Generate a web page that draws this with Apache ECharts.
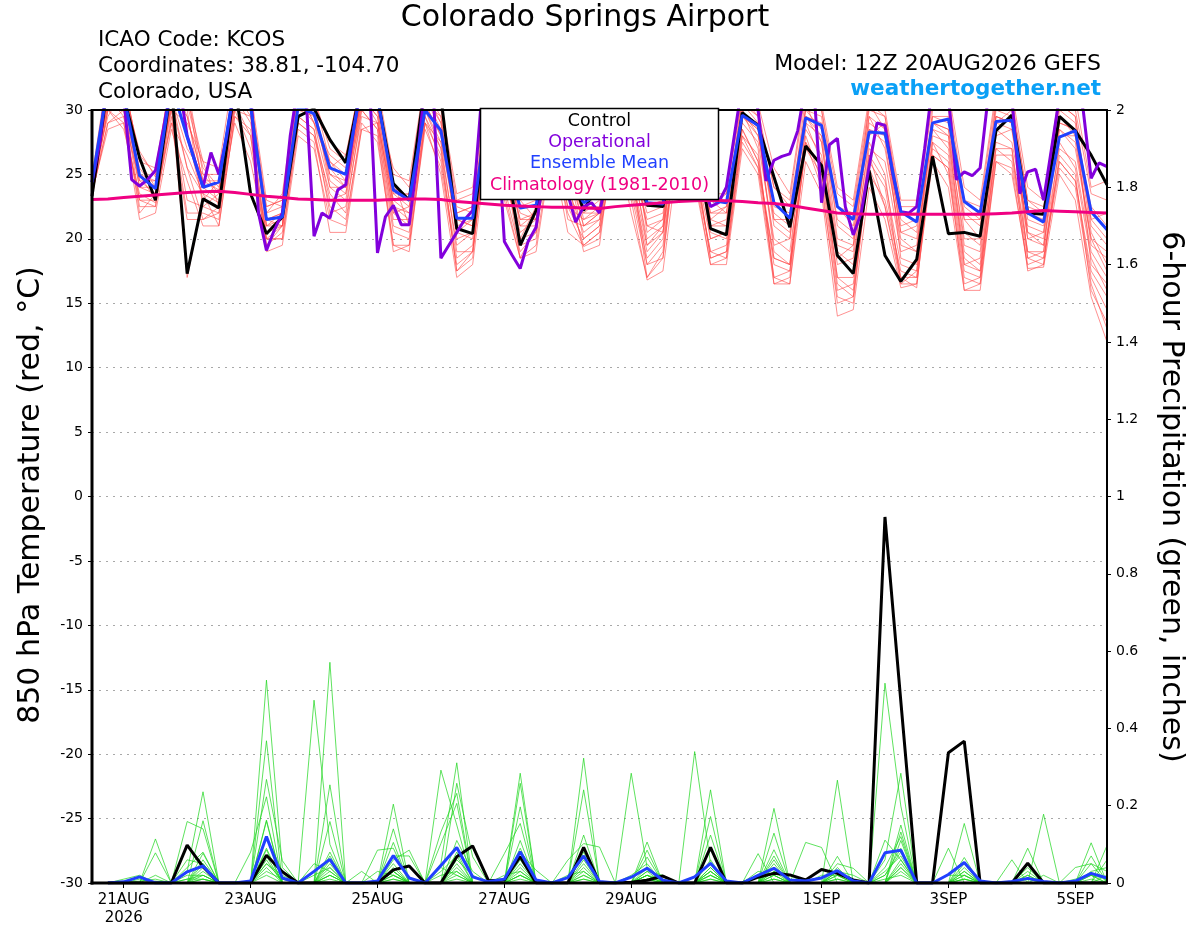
<!DOCTYPE html>
<html><head><meta charset="utf-8">
<script src="https://cdn.jsdelivr.net/npm/echarts@6/dist/echarts.min.js"></script>
<style>html,body{margin:0;padding:0;background:#fff}#c{width:1200px;height:927px}</style>
</head><body><div id="c"></div>
<script>
// ---------- axis / tick data ----------
const tickHours = [12, 60, 108, 156, 204, 276, 324, 372];
const tickLabels = ['21AUG\n2026', '23AUG', '25AUG', '27AUG', '29AUG', '1SEP', '3SEP', '5SEP'];

// ---------- 850 hPa temperature (6-hourly, from 20AUG 12Z) ----------
const tempControl = [
  23.3, 32, 31, 26.3, 23.0,
  32, 17.3, 23.1, 22.4,  32, 23.5, 20.4, 21.7,  29.5, 30.1, 27.7, 25.9,  32, 31, 24.3, 23.0,
  32, 31, 20.8, 20.4,  31, 27, 19.5, 22.2,  29, 26, 22.2, 24.5,  29, 27, 22.6, 22.5,
  29, 28, 20.8, 20.3,  29.8, 28.8, 24.8, 20.9,  27.2, 25.7, 18.7, 17.3,  25.3, 18.7, 16.7, 18.4,
  26.4, 20.4, 20.5, 20.2,  28.4, 29.6, 22.0, 21.9,  29.5, 28.4, 26.5, 24.2
];
const tempMean = [
  24.4, 32, 31.2, 24.9, 23.9,
  32, 27.9, 24.0, 24.4,  32, 30.3, 21.5, 21.7,  30.3, 29.7, 25.5, 25.0,  32, 31, 23.8, 23.0,
  30.0, 28.4, 21.6, 21.6,  30.5, 27, 22.4, 22.6,  29, 25, 22.8, 23.5,  29, 27, 22.8, 22.7,
  29, 28, 23.0, 22.8,  29.6, 28.8, 22.8, 21.6,  29.4, 28.8, 22.5, 21.5,  28.3, 28.2, 22.1, 21.3,
  29.0, 29.3, 22.9, 22.0,  29.1, 29.2, 22.0, 21.3,  27.9, 28.4, 22.1, 20.7
];
// operational run is 3-hourly
const tempOper = [
  24.4, 27.5, 33, 33, 31, 24.6, 24.1, 24.6, 25.3,
  28.5, 32, 32, 28, 26, 24.0, 26.7, 25.0,
  28, 32, 32, 31.5, 22.0, 19.1, 20.7, 22.0,
  28, 32, 31, 20.2, 22.0, 21.6, 23.8, 24.2,
  28.5, 32, 32, 18.9, 21.7, 22.6, 21.1, 21.1,
  26, 32, 32, 18.5, 19.5, 20.5, 21.5, 22.2,
  30, 32, 30, 19.8, 18.7, 17.7, 19.8, 20.9,
  25, 29, 27, 23.5, 21.3, 22.5, 22.8, 22.0,
  25, 29, 28, 26, 24, 23.2, 23.5, 23.5,
  26, 29, 29, 27, 24.5, 22.5, 22.8, 24.0,
  28, 32, 32, 30, 24.5, 26.1, 26.4, 26.6,
  28.4, 32, 32, 22.8, 27.3, 27.8, 22.5, 20.3,
  22.0, 25.6, 29.0, 28.8, 25, 22.1, 22.0, 22.5,
  27, 32, 32, 31, 24.6, 25.2, 24.9, 25.5,
  31, 32, 32, 31, 23.5, 25.2, 25.4, 23.0,
  27.0, 31, 32, 32, 30, 24.7, 25.9, 25.6
];
const tempClim = [
  23.05, 23.1, 23.2, 23.3, 23.4, 23.5, 23.6, 23.65, 23.7, 23.6, 23.45, 23.3, 23.2,
  23.1, 23.05, 23.0, 23.0, 23.0, 23.0, 23.05, 23.1, 23.1, 23.05, 22.9, 22.8, 22.7,
  22.6, 22.55, 22.5, 22.45, 22.45, 22.4, 22.35, 22.5, 22.6, 22.7, 22.8, 22.9, 22.95,
  23.0, 22.95, 22.9, 22.8, 22.75, 22.6, 22.4, 22.2, 22.0, 21.95, 21.9, 21.9, 21.9,
  21.9, 21.9, 21.9, 21.9, 21.9, 21.95, 22.0, 22.1, 22.2, 22.15, 22.1, 22.05, 22.0
];
// ensemble members (temperature)
const tm01 = [24.0,31.5,30.5,25.5,23.8,
  31.0,29.5,24.5,23.8, 32.0,30.5,21.0,21.5, 31.0,29.5,26.0,24.5, 31.5,30.5,23.5,22.5,
  31.0,28.5,21.0,21.5, 31.0,26.5,21.5,22.0, 29.0,25.0,22.0,23.0, 30.0,26.5,22.0,22.5,
  29.5,27.5,22.0,22.5, 30.0,28.0,22.0,21.0, 30.0,28.5,21.5,20.5, 28.5,28.0,21.5,20.5,
  29.5,29.0,22.0,21.0, 29.5,29.0,21.5,21.0, 28.0,28.0,21.5,20.0];
const tm02 = [23.5,29.0,29.5,22.5,22.5,
  29.5,22.0,22.0,21.5, 30.5,28.0,19.5,20.5, 29.0,28.0,23.5,22.0, 30.0,28.5,20.5,20.0,
  29.5,26.0,18.5,19.5, 29.0,24.0,19.0,20.5, 28.0,22.5,20.0,21.0, 28.5,24.0,18.5,20.0,
  28.0,25.5,19.0,19.5, 28.5,26.0,18.0,17.5, 27.0,25.0,16.0,16.5, 25.0,23.0,17.5,17.0,
  27.0,26.0,17.5,17.0, 27.5,27.0,19.0,18.5, 26.0,24.5,17.0,14.5];
const tm03 = [24.8,33.0,32.0,26.5,25.0,
  33.0,31.0,26.0,25.5, 33.5,31.0,22.5,23.0, 32.5,31.0,27.0,26.0, 33.0,32.0,25.0,24.5,
  32.5,30.0,23.0,23.5, 32.0,28.5,23.5,23.5, 31.0,27.0,23.5,24.0, 31.5,27.5,23.5,24.0,
  31.5,29.5,23.5,23.5, 31.5,30.0,24.0,23.0, 31.5,30.0,23.5,22.5, 30.5,29.5,22.5,22.5,
  31.0,31.0,23.0,22.5, 31.0,31.0,23.0,22.5, 31.0,30.0,23.5,23.0];
const tm04 = [23.8,30.5,31.0,24.0,23.5,
  30.5,17.0,23.0,22.5, 31.5,31.0,20.0,21.0, 30.0,30.5,24.5,23.5, 31.0,29.5,22.0,21.0,
  30.0,27.0,17.5,18.5, 30.0,25.5,20.5,21.5, 29.5,23.5,19.5,20.5, 29.0,25.5,17.0,19.0,
  29.0,26.0,20.0,20.5, 29.0,27.5,20.0,19.0, 28.5,26.5,18.0,18.5, 27.5,25.0,16.5,17.5,
  28.0,27.5,19.0,18.0, 28.0,28.5,20.0,19.5, 27.0,26.0,19.0,17.0];
const tm05 = [24.2,32.0,30.0,25.0,24.5,
  32.0,30.5,25.5,24.0, 32.5,30.5,21.5,22.0, 31.5,29.0,26.5,25.5, 32.0,31.0,24.0,23.0,
  31.5,29.0,22.0,22.5, 31.5,27.5,22.5,23.0, 30.5,26.0,21.0,22.0, 30.5,27.0,21.0,21.5,
  30.5,28.5,21.0,21.0, 30.5,29.0,21.0,20.0, 29.5,29.0,20.0,19.5, 29.5,27.0,20.0,19.0,
  30.0,30.0,20.5,19.5, 30.0,29.5,20.5,20.0, 29.5,28.0,19.5,18.5];
const tm06 = [23.6,28.5,29.0,21.5,22.0,
  28.5,24.5,21.0,21.0, 29.5,28.0,19.0,19.5, 28.0,27.0,21.5,21.0, 29.0,27.5,19.5,19.0,
  29.0,25.0,17.0,18.0, 28.0,23.0,18.5,19.0, 27.0,20.5,19.5,20.5, 27.0,23.0,16.8,17.5,
  27.0,24.5,18.0,18.0, 27.0,25.0,16.5,16.5, 26.0,23.5,14.0,14.5, 24.0,21.5,16.2,16.5,
  26.0,24.0,16.0,16.0, 26.0,25.5,17.7,17.8, 25.0,23.0,15.5,12.0];
const tm07 = [24.5,31.0,32.5,26.0,24.0,
  31.5,31.5,24.0,23.0, 31.0,31.0,22.0,22.5, 30.5,30.0,25.0,24.0, 30.5,31.5,22.5,22.0,
  30.5,29.5,20.0,20.5, 30.5,25.0,20.0,22.5, 30.0,24.5,22.5,22.5, 29.5,26.0,20.0,21.0,
  29.5,27.0,21.5,21.0, 29.5,28.5,19.0,18.0, 30.5,27.5,19.0,18.0, 28.0,29.0,18.5,18.0,
  29.0,28.0,18.0,18.5, 29.0,30.0,18.5,19.0, 30.0,29.0,18.0,16.5];
const tm08 = [23.9,30.0,30.5,23.0,23.0,
  30.0,23.0,22.5,22.0, 30.0,27.0,20.5,21.0, 29.5,28.5,22.0,22.5, 29.5,29.0,21.0,20.5,
  29.0,27.5,19.0,19.0, 29.5,24.5,21.0,21.0, 28.5,21.5,21.0,21.5, 28.0,24.5,19.0,20.5,
  28.5,26.5,18.5,19.0, 28.0,26.5,17.0,16.5, 27.5,24.0,15.5,15.0, 26.0,24.0,17.0,16.2,
  27.5,25.0,16.5,17.0, 27.0,26.0,18.5,18.0, 26.5,25.0,16.0,13.5];
const tm09 = [24.6,32.5,31.5,26.8,24.8,
  32.5,32.0,25.0,25.0, 32.0,31.5,23.0,22.5, 32.0,30.5,27.5,26.5, 32.5,30.0,25.5,24.0,
  32.0,30.5,23.5,24.0, 32.5,29.0,24.0,23.5, 31.5,28.0,23.0,24.5, 31.0,28.0,24.0,23.5,
  31.0,30.0,22.5,23.5, 31.0,30.5,25.5,23.5, 32.0,30.5,24.0,23.0, 31.0,30.0,23.0,23.0,
  31.5,31.5,24.0,23.0, 31.5,31.5,24.0,23.0, 31.5,31.0,24.0,24.5];
const tm10 = [24.1,31.0,29.5,24.5,23.5,
  31.0,25.5,23.5,22.8, 31.0,30.0,21.0,21.0, 30.5,29.0,24.0,23.0, 30.5,30.0,22.5,21.5,
  30.5,28.0,20.5,20.0, 30.5,26.0,21.5,21.5, 29.5,24.0,20.5,21.5, 29.5,25.0,19.5,20.5,
  30.0,27.5,20.5,20.0, 30.0,27.0,16.5,17.0, 29.0,26.0,17.0,17.0, 27.0,26.0,19.0,19.5,
  28.5,27.0,18.5,17.5, 28.5,27.5,21.0,20.5, 28.5,27.0,20.0,19.0];
const tm11 = [24.3,29.5,31.5,25.0,24.0,
  30.5,30.0,22.5,23.5, 30.5,31.0,21.5,22.0, 30.0,29.5,25.0,24.5, 31.0,29.0,23.0,22.0,
  30.0,27.5,21.5,21.0, 29.5,27.0,19.5,20.0, 30.0,23.0,22.0,22.0, 30.0,26.0,21.5,22.0,
  29.5,28.0,22.0,22.0, 29.5,28.0,22.5,22.0, 29.0,28.0,22.5,21.0, 29.5,28.5,21.0,21.5,
  29.0,28.5,21.5,21.5, 29.0,28.5,22.0,21.5, 29.0,28.5,22.5,21.0];
const tm12 = [23.7,30.0,28.5,23.5,22.8,
  29.0,21.5,21.5,22.0, 29.0,26.0,20.0,20.0, 28.5,27.5,20.5,20.5, 28.5,28.0,19.0,19.5,
  28.5,25.5,18.0,19.0, 28.5,23.5,18.5,19.5, 27.5,22.0,19.4,20.0, 28.5,23.5,18.0,19.5,
  28.0,25.0,19.0,18.5, 27.5,25.5,18.5,18.0, 27.5,25.5,16.5,15.5, 26.5,22.5,17.0,17.0,
  26.5,25.5,17.0,16.5, 26.5,26.5,19.0,19.0, 26.0,24.5,17.5,15.5];
const tm13 = [24.2,30.5,31.0,24.5,24.5,
  30.0,29.0,26.0,22.5, 31.0,29.0,22.5,23.0, 31.5,29.0,25.5,26.5, 30.5,30.5,24.5,21.0,
  31.5,30.5,22.0,22.5, 30.0,29.0,23.0,21.5, 29.5,27.0,21.5,22.5, 31.0,28.0,20.5,21.5,
  30.5,29.0,21.5,22.5, 30.5,29.5,24.0,22.5, 30.0,29.5,21.0,20.0, 30.5,28.5,20.5,21.0,
  29.5,29.5,21.5,20.0, 30.5,30.0,22.5,22.0, 30.5,29.5,21.0,19.5];
const tm14 = [23.4,29.0,30.0,22.0,23.5,
  29.0,26.5,23.5,21.0, 29.5,28.5,20.0,20.0, 29.0,28.0,22.5,21.5, 28.5,29.0,21.5,21.5,
  29.5,27.0,19.5,20.5, 28.5,25.0,20.0,20.5, 28.5,24.5,19.0,19.5, 29.0,25.5,18.0,18.5,
  29.0,26.0,18.5,19.0, 28.5,26.0,18.5,18.0, 27.0,26.0,17.0,16.0, 26.5,24.5,18.0,17.5,
  27.5,26.5,18.0,17.5, 27.0,27.0,17.5,18.0, 27.5,25.5,18.5,16.0];
const tm15 = [24.7,32.0,32.5,26.0,25.5,
  32.5,29.5,24.5,24.5, 32.0,30.0,22.0,23.5, 32.5,31.0,26.0,25.0, 32.5,31.5,23.5,23.5,
  31.5,29.5,22.5,22.0, 32.0,28.0,22.5,22.5, 30.5,26.5,22.5,23.5, 30.5,28.0,22.5,23.0,
  30.5,29.0,23.0,22.0, 31.0,29.5,21.5,21.5, 31.0,30.0,22.5,22.0, 30.0,29.5,22.0,22.0,
  30.5,30.5,22.5,21.5, 30.5,30.5,23.0,22.0, 30.5,29.5,21.5,22.0];
const tm16 = [23.2,30.0,29.0,23.0,22.5,
  30.5,25.5,21.5,22.5, 30.0,29.5,19.5,21.0, 29.5,28.5,23.0,23.5, 30.0,28.5,19.5,19.5,
  29.0,26.5,17.5,19.0, 29.5,26.0,18.5,21.0, 28.0,22.5,21.5,22.0, 28.0,22.0,17.0,18.5,
  28.5,25.0,18.0,18.5, 28.0,25.5,17.0,17.5, 28.0,24.5,15.0,15.5, 25.5,22.5,16.5,16.5,
  26.5,25.5,16.0,16.5, 26.0,25.0,18.0,18.5, 25.5,24.0,16.5,13.0];
const tm17 = [24.0,31.5,31.5,25.0,23.0,
  31.5,28.0,23.0,24.5, 31.5,30.0,21.0,22.0, 31.0,30.5,24.0,24.0, 31.5,30.0,23.0,23.5,
  30.5,28.0,21.5,21.0, 30.5,26.0,22.0,21.5, 29.5,25.5,21.0,22.0, 30.0,26.5,19.5,21.0,
  30.0,28.0,21.0,21.5, 29.5,28.5,19.5,20.0, 29.5,27.5,18.5,19.5, 28.5,27.5,19.5,19.0,
  29.0,28.5,19.5,19.0, 29.5,29.0,20.0,20.5, 29.0,28.5,20.5,18.0];
const tm18 = [24.4,30.5,30.0,24.0,24.0,
  31.0,27.0,25.0,23.5, 31.5,29.5,21.5,21.0, 30.5,30.0,25.5,24.0, 31.0,29.5,22.0,22.5,
  31.0,29.0,20.5,21.5, 31.0,27.5,21.0,22.0, 30.0,25.5,20.0,21.0, 29.5,27.0,21.0,20.5,
  29.5,28.0,20.0,20.5, 29.5,29.0,21.5,20.5, 29.5,28.0,19.5,19.0, 29.0,28.0,20.5,20.0,
  28.5,28.0,20.0,20.0, 29.5,29.0,20.5,19.5, 28.5,27.5,20.0,17.5];
const tempMembers = [tm01, tm02, tm03, tm04, tm05, tm06, tm07, tm08, tm09,
                     tm10, tm11, tm12, tm13, tm14, tm15, tm16, tm17, tm18];

// ---------- 6-hour precipitation (periods ending 20AUG 18Z ... 5SEP 12Z) ----------
const precipControl = [
  0,0,0,0,  0,0.098,0.042,0,  0,0,0.072,0.029,  0,0,0,0,
  0,0,0.034,0.044,  0,0,0.068,0.096,  0.006,0.008,0.068,0,  0,0,0.092,0,
  0,0.002,0.007,0.018,  0,0,0.092,0,  0,0.015,0.025,0.021,  0.008,0.035,0.025,0.008,
  0,0.947,0.47,0,  0,0.337,0.367,0,  0,0,0.051,0,  0,0,0,0
];
const precipMean = [
  0,0.003,0.016,0,  0,0.029,0.044,0,  0,0.005,0.12,0.013,  0,0.03,0.061,0,
  0,0.005,0.071,0.013,  0,0.045,0.092,0.016,  0.003,0.01,0.081,0.008,  0,0.014,0.07,0.004,
  0,0.015,0.038,0.007,  0,0.016,0.051,0.005,  0,0.02,0.038,0.008,  0.005,0.013,0.032,0.005,
  0,0.078,0.085,0,  0,0.022,0.053,0.005,  0,0.004,0.012,0.004,  0,0.005,0.025,0.013
];
const pm01 = [0,0,0,0.114, 0,0.03,0.236,0, 0,0,0.525,0.04, 0,0,0.08,0,
  0,0,0.204,0, 0,0.05,0.311,0, 0,0,0.284,0, 0,0,0.323,0,
  0,0,0.106,0, 0,0,0.241,0, 0,0,0.193,0, 0,0,0.266,0,
  0,0.06,0.284,0, 0,0,0.154,0, 0,0,0.09,0, 0,0,0.104,0];
const pm02 = [0,0,0,0.078, 0,0,0.161,0, 0,0,0.368,0, 0,0.473,0.1,0,
  0,0,0.14,0, 0,0.292,0.15,0, 0,0,0.258,0, 0,0,0.241,0,
  0,0.284,0.04,0, 0,0.34,0.05,0, 0,0,0.129,0, 0,0,0.069,0,
  0,0.517,0.199,0, 0,0,0.066,0, 0,0,0,0.178, 0,0,0,0.097];
const pm03 = [0,0,0,0, 0,0.159,0.14,0, 0,0,0.268,0.058, 0,0,0.571,0,
  0,0,0.105,0, 0,0,0.258,0.068, 0,0,0.197,0, 0,0,0.124,0,
  0,0,0.085,0, 0,0,0.172,0, 0,0,0.086,0, 0.105,0.092,0,0,
  0,0,0.132,0, 0,0.09,0,0, 0,0,0,0, 0,0,0.07,0];
const pm04 = [0,0,0,0, 0,0,0.077,0, 0,0.08,0.223,0, 0,0,0.254,0,
  0,0.085,0.09,0, 0,0.132,0.232,0, 0,0.076,0.154,0, 0,0.059,0.102,0.093,
  0,0,0.067,0, 0,0,0.124,0, 0,0.076,0,0, 0,0,0.04,0,
  0,0.111,0.06,0, 0,0,0,0, 0,0.06,0,0, 0,0,0,0.06];
const pm05 = [0,0,0,0, 0,0.06,0.05,0, 0,0,0.163,0, 0,0,0.159,0,
  0,0,0.07,0.07, 0,0.102,0.206,0, 0,0,0.11,0, 0,0,0.05,0,
  0,0,0.04,0, 0,0,0.03,0, 0,0,0.05,0, 0,0,0.03,0,
  0,0.02,0.09,0, 0,0,0.05,0, 0,0,0.03,0, 0,0.04,0.05,0];
const pm06 = [0,0,0,0, 0,0,0.04,0, 0,0,0.12,0.03, 0,0,0.05,0,
  0,0,0.06,0.085, 0,0,0.11,0.03, 0,0,0.08,0.033, 0,0,0.06,0,
  0,0,0.03,0.02, 0,0,0.04,0, 0,0,0.03,0.02, 0,0,0.05,0.038,
  0,0,0.11,0, 0,0,0.03,0, 0,0,0.02,0, 0,0,0.03,0.04];
const pm07 = [0,0.01,0.02,0, 0,0.04,0.08,0, 0,0,0.086,0, 0,0,0.03,0,
  0.03,0,0.04,0, 0,0,0.08,0, 0,0,0.06,0, 0,0,0.04,0,
  0,0.02,0.05,0, 0,0,0.06,0, 0,0,0.04,0, 0,0,0.02,0,
  0,0,0.15,0, 0,0,0.04,0, 0,0,0,0.02, 0,0,0.02,0];
const pm08 = [0,0,0.01,0, 0,0,0.03,0, 0,0,0.05,0.02, 0,0.05,0.03,0,
  0,0,0.03,0, 0,0,0.05,0, 0,0,0.04,0, 0,0,0.03,0,
  0,0,0.02,0, 0,0,0.02,0, 0,0,0.06,0, 0,0,0.01,0,
  0,0.03,0.07,0, 0,0,0.02,0, 0,0,0.01,0, 0,0,0,0.02];
const pm09 = [0,0,0,0, 0,0.02,0.02,0, 0,0,0.04,0, 0,0,0.02,0,
  0,0,0.02,0, 0,0,0.03,0, 0,0,0.03,0, 0,0,0.02,0,
  0,0,0.01,0, 0,0,0.01,0, 0,0,0.02,0, 0,0,0,0,
  0,0,0.05,0, 0,0.02,0.02,0, 0,0,0,0, 0,0,0.01,0];
const pm10 = [0,0,0,0, 0,0,0.06,0, 0,0,0.07,0, 0,0,0.04,0,
  0,0,0.05,0, 0,0,0.04,0, 0,0,0.05,0, 0,0,0.01,0,
  0,0,0.03,0, 0,0,0.02,0, 0,0,0.03,0, 0,0.02,0.02,0,
  0,0,0.04,0, 0,0,0.01,0, 0,0,0,0, 0,0,0,0];
const pm11 = [0,0,0,0.005, 0,0,0.01,0, 0,0,0.03,0.01, 0,0,0.01,0,
  0,0,0.01,0, 0,0,0.02,0, 0,0,0.02,0, 0,0,0,0,
  0,0,0.01,0, 0,0,0,0, 0,0,0.01,0, 0,0,0,0,
  0,0,0.03,0, 0,0,0,0, 0,0,0,0, 0,0,0,0];
const pm12 = [0,0,0,0, 0,0.01,0.02,0, 0,0,0.02,0, 0,0,0.02,0,
  0,0,0.02,0, 0,0.02,0.03,0, 0,0,0.01,0, 0,0,0,0,
  0,0,0,0, 0,0,0.01,0, 0,0,0.02,0, 0,0,0,0,
  0,0.01,0.02,0, 0,0,0,0, 0,0,0,0, 0,0,0,0];
const pm13 = [0,0,0,0.02, 0,0,0.05,0, 0,0,0.16,0, 0,0,0.07,0,
  0,0,0.03,0, 0,0,0.06,0.02, 0,0,0.09,0, 0,0,0.08,0,
  0,0,0.02,0, 0,0,0.04,0, 0,0,0.07,0, 0,0,0.03,0.02,
  0,0.04,0.12,0, 0,0,0.03,0, 0,0,0.04,0, 0,0,0.05,0.03];
const pm14 = [0,0,0,0, 0,0,0.02,0, 0,0,0.09,0, 0,0.02,0.04,0,
  0,0.03,0.02,0, 0,0.03,0.07,0, 0,0.02,0.03,0, 0,0.02,0.03,0,
  0,0,0.02,0.01, 0,0,0.03,0, 0,0.03,0.02,0, 0,0,0.03,0,
  0,0.02,0.08,0, 0,0,0.02,0, 0,0,0.02,0, 0,0.01,0.02,0.01];
const pm15 = [0,0,0.005,0.01, 0,0,0.01,0, 0,0,0.06,0, 0,0,0.02,0,
  0,0,0.01,0, 0,0,0.01,0, 0,0,0.02,0, 0,0,0.01,0,
  0,0,0.02,0, 0,0,0.03,0, 0,0,0.01,0, 0,0,0.01,0,
  0,0,0.04,0, 0,0,0.01,0, 0,0,0,0, 0,0,0,0];
const pm16 = [0,0,0,0, 0,0.01,0.01,0, 0,0,0.05,0.01, 0,0,0.06,0,
  0,0,0.03,0, 0,0.04,0.02,0, 0,0,0.02,0, 0,0,0.02,0,
  0,0,0.01,0, 0,0,0.02,0, 0,0,0.04,0, 0,0,0.02,0,
  0,0,0.06,0, 0,0,0.01,0, 0,0,0.01,0, 0,0,0.02,0];
const precipMembers = [pm01, pm02, pm03, pm04, pm05, pm06, pm07, pm08,
                       pm09, pm10, pm11, pm12, pm13, pm14, pm15, pm16];

// ---------- build chart ----------
const FONT = 'DejaVu Sans';
const C_OPER = '#8200dc', C_MEAN = '#2040ff', C_CLIM = '#f00082';
const at6 = (arr, off) => arr.map((v, i) => [(i + off) * 6, v]);
const at3 = arr => arr.map((v, j) => [j * 3, v]);
const line = (data, yi, color, width) => ({
  type: 'line', data, yAxisIndex: yi, symbol: 'none', silent: true,
  lineStyle: { color, width }, emphasis: { disabled: true }
});

const series = [];
tempMembers.forEach(m => series.push(line(at6(m, 0), 0, 'rgba(255,70,70,0.75)', 0.8)));
precipMembers.forEach(m => series.push(line(at6(m, 1), 1, 'rgba(30,215,30,0.9)', 0.8)));
series.push(line(at6(tempControl, 0), 0, '#000', 3));
series.push(line(at3(tempOper), 0, C_OPER, 3));
series.push(line(at6(tempMean, 0), 0, C_MEAN, 3));
series.push(line(at6(tempClim, 0), 0, C_CLIM, 3));
series.push(line(at6(precipControl, 1), 1, '#000', 3));
series.push(line(at6(precipMean, 1), 1, C_MEAN, 3));

const txt = (x, y, text, size, color, align, extra) => Object.assign({
  type: 'text', x, y, z: 60,
  style: { text, fill: color, font: size + 'px "' + FONT + '"', align: align || 'left', verticalAlign: 'middle' }
}, extra || {});

const chart = echarts.init(document.getElementById('c'), null, { renderer: 'canvas' });
chart.setOption({
  animation: false,
  backgroundColor: '#fff',
  grid: { left: 92, right: 93, top: 110, bottom: 44, containLabel: false },
  xAxis: {
    type: 'value', min: 0, max: 384,
    axisLine: { show: false, onZero: false },
    axisTick: { show: true, customValues: tickHours, length: 5, lineStyle: { color: '#000', width: 1 } },
    axisLabel: {
      customValues: tickHours, color: '#000', fontFamily: FONT, fontSize: 15, margin: 8, lineHeight: 18,
      formatter: v => tickLabels[tickHours.indexOf(v)] || ''
    },
    splitLine: { show: false }
  },
  yAxis: [{
    type: 'value', min: -30, max: 30, interval: 5, position: 'left',
    axisLine: { show: false },
    axisTick: { show: true, length: 4, lineStyle: { color: '#000' } },
    axisLabel: { color: '#000', fontFamily: FONT, fontSize: 14, margin: 9 },
    splitLine: { show: true, lineStyle: { color: '#a8a8a8', width: 1.2, type: [2, 5] } }
  }, {
    type: 'value', min: 0, max: 2, interval: 0.2, position: 'right',
    axisLine: { show: false },
    axisTick: { show: true, length: 4, lineStyle: { color: '#000' } },
    axisLabel: { color: '#000', fontFamily: FONT, fontSize: 14, margin: 9 },
    splitLine: { show: false }
  }],
  series,
  graphic: [
    // frame
    { type: 'rect', z: 55, shape: { x: 92, y: 110, width: 1015, height: 773 }, style: { fill: 'none', stroke: '#000', lineWidth: 2 } },
    { type: 'line', z: 56, shape: { x1: 92, y1: 109, x2: 92, y2: 884.5 }, style: { stroke: '#000', lineWidth: 3 } },
    { type: 'line', z: 56, shape: { x1: 90.5, y1: 883, x2: 1108, y2: 883 }, style: { stroke: '#000', lineWidth: 3 } },
    // legend box
    { type: 'rect', z: 57, shape: { x: 480.5, y: 108.5, width: 238, height: 91 }, style: { fill: '#fff', stroke: '#000', lineWidth: 1.5 } },
    txt(599.5, 121, 'Control', 17.5, '#000', 'center'),
    txt(599.5, 142, 'Operational', 17.5, C_OPER, 'center'),
    txt(599.5, 163, 'Ensemble Mean', 17.5, C_MEAN, 'center'),
    txt(599.5, 185, 'Climatology (1981-2010)', 17.5, C_CLIM, 'center'),
    // header
    txt(585, 18, 'Colorado Springs Airport', 30, '#000', 'center'),
    txt(98, 40, 'ICAO Code: KCOS', 21.5, '#000', 'left'),
    txt(98, 66, 'Coordinates: 38.81, -104.70', 21.5, '#000', 'left'),
    txt(98, 92, 'Colorado, USA', 21.5, '#000', 'left'),
    txt(1101, 64, 'Model: 12Z 20AUG2026 GEFS', 22, '#000', 'right'),
    { type: 'text', x: 1101, y: 89, z: 60, style: { text: 'weathertogether.net', fill: '#0aa0f6', font: 'bold 21.5px "' + FONT + '"', align: 'right', verticalAlign: 'middle' } },
    // axis titles
    txt(31, 495, '850 hPa Temperature (red, °C)', 30, '#000', 'center', { rotation: Math.PI / 2 }),
    txt(1171, 497, '6-hour Precipitation (green, inches)', 30, '#000', 'center', { rotation: -Math.PI / 2 })
  ]
});
</script>
</body></html>
